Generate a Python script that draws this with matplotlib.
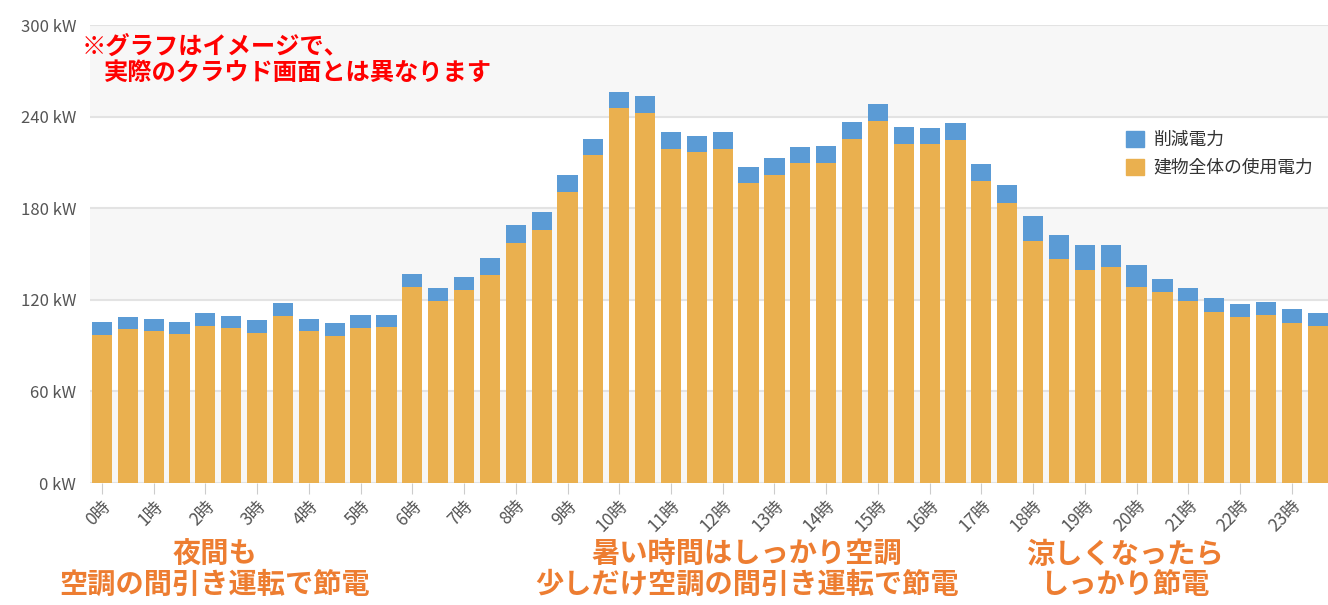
import matplotlib
matplotlib.use("Agg")
import matplotlib.pyplot as plt
from matplotlib.patches import Patch
import numpy as np

plt.rcParams['font.family'] = ['Noto Sans CJK JP', 'DejaVu Sans']

# 30分ごとの値 (kW)
usage = [97.0, 100.8, 99.5, 97.6, 102.8, 101.5, 98.2, 109.4, 99.5, 96.3, 101.5, 102.0,
         128.4, 119.5, 126.3, 136.0, 157.0, 166.0, 190.5, 214.6, 245.5, 242.5, 218.6, 216.5,
         218.6, 196.2, 201.6, 209.4, 209.6, 225.5, 237.3, 222.2, 221.9, 224.7, 198.0, 183.2,
         158.3, 146.5, 139.6, 141.3, 128.1, 124.9, 118.9, 112.0, 108.7, 110.0, 104.8, 102.8]
reduction = [8.3, 8.1, 8.1, 7.9, 8.3, 8.0, 8.4, 8.4, 7.9, 8.4, 8.4, 8.0,
             8.4, 8.0, 8.4, 11.4, 12.1, 11.5, 11.2, 10.8, 10.8, 11.1, 11.2, 10.8,
             11.1, 10.8, 11.1, 10.6, 11.1, 10.7, 11.1, 11.1, 10.7, 11.2, 11.0, 12.0,
             16.5, 15.9, 16.2, 14.7, 14.5, 8.6, 8.6, 9.0, 8.5, 8.5, 9.1, 8.5]
hours = [f"{h}時" for h in range(24)]
y_ticks = [0, 60, 120, 180, 240, 300]
y_labels = [f"{v} kW" for v in y_ticks]

orange = '#EAB04F'
blue = '#5B9BD5'

fig = plt.figure(figsize=(13.28, 6.05), dpi=100)
ax = fig.add_axes([90/1328, 122/605, 1 - 90/1328, 458/605])

x = np.arange(len(usage))
ax.bar(x, usage, width=0.78, color=orange, zorder=3)
ax.bar(x, reduction, bottom=usage, width=0.78, color=blue, zorder=3)

##alternating bands + grid
for lo in [0, 120, 240]:
    ax.axhspan(lo, lo + 60, color='#f7f7f7', zorder=0, lw=0)
for v in y_ticks:
    ax.axhline(v, color='#e3e3e3', lw=1.5, zorder=1)

ax.set_xlim(-0.46, 47.4)
ax.set_ylim(0, 300)
ax.set_yticks(y_ticks)
ax.set_yticklabels(y_labels, fontsize=12, color='#555555')
ax.tick_params(axis='y', length=0, pad=10)
ax.set_xticks(x[::2])
ax.set_xticklabels(hours, fontsize=12.5, color='#555555', rotation=45,
                   ha='right', rotation_mode='anchor')
ax.tick_params(axis='x', length=8, color='#cccccc', pad=2)
for s in ax.spines.values():
    s.set_visible(False)

handles = [Patch(color=blue), Patch(color=orange)]
fig.legend(handles, ['削減電力', '建物全体の使用電力'], loc='upper left',
           bbox_to_anchor=(1110/1328, 1 - 115/605), frameon=False, fontsize=12.8,
           handlelength=1.0, handleheight=1.0, handletextpad=0.55, labelspacing=0.55,
           labelcolor='#333333')

fig.text(82/1328, 1 - 47/605, '※グラフはイメージで、', color='#ff0000', fontsize=17.5,
         fontweight='bold', va='center', ha='left')
fig.text(104/1328, 1 - 73/605, '実際のクラウド画面とは異なります', color='#ff0000', fontsize=17.5,
         fontweight='bold', va='center', ha='left')

note_color = '#ED7D31'
notes = [(215, '夜間も\n空調の間引き運転で節電'),
         (747, '暑い時間はしっかり空調\n少しだけ空調の間引き運転で節電'),
         (1125, '涼しくなったら\nしっかり節電')]
for px, txt in notes:
    fig.text(px/1328, 1 - 570/605, txt, color=note_color, fontsize=20.3, fontweight='bold',
             ha='center', va='center', linespacing=1.12)

fig.savefig('out.png', dpi=100)
